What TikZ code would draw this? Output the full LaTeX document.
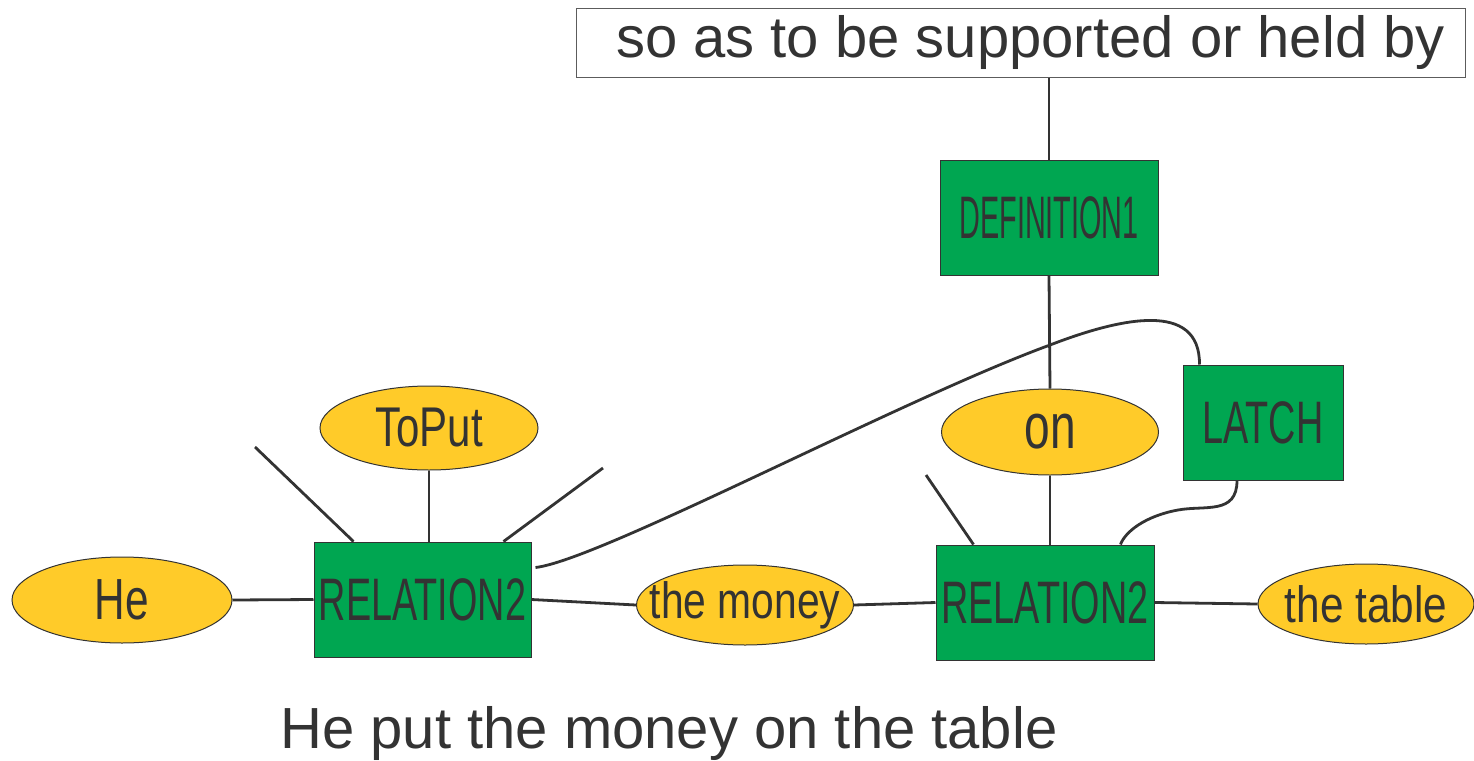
\documentclass[tikz,border=0pt]{standalone}
\usepackage{fontspec}
\setmainfont{Liberation Sans}
\usepackage{graphicx}
\usetikzlibrary{shapes.geometric}
\definecolor{boxgreen}{HTML}{00A651}
\definecolor{ovalyellow}{HTML}{FFCB29}
\definecolor{inkgray}{HTML}{333333}
\newcommand{\narrow}[2]{\makebox[0pt]{\scalebox{#1}[1]{#2}}}

\begin{document}
\begin{tikzpicture}[x=0.5pt,y=-0.5pt,
    concept/.style={draw=inkgray, line width=0.5pt, fill=boxgreen, inner sep=0pt,
        minimum height=57.5pt, text=inkgray, font=\fontsize{30}{30}\selectfont},
    word/.style={ellipse, draw=inkgray, line width=0.5pt, fill=ovalyellow, inner sep=0pt,
        minimum width=109pt, minimum height=42pt, text=inkgray, font=\fontsize{28}{28}\selectfont},
    link/.style={draw=inkgray, line width=1.4pt}]
    \useasboundingbox (0,0) rectangle (1474,761);

    % gloss and definition
    \node[draw=inkgray!80, line width=0.5pt, fill=white, inner sep=0pt, minimum width=444.5pt,
        minimum height=34.5pt, text=inkgray, font=\fontsize{29}{29}\selectfont]
        (gloss) at (1020.5,42.5) {\hspace*{10pt}so as to be supported or held by};
    \node[concept, minimum width=109pt] (def) at (1049,217.5) {\narrow{0.48}{DEFINITION1}};

    % relations
    \node[concept, minimum width=108.5pt] (rel1) at (422.5,599.5) {\narrow{0.63}{RELATION2}};
    \node[concept, minimum width=109pt] (rel2) at (1045,602.5) {\narrow{0.63}{RELATION2}};
    \node[concept, minimum width=80pt] (latch) at (1263,422.5) {\narrow{0.63}{LATCH}};

    % words
    \node[word, minimum width=110pt, minimum height=43pt, font=\fontsize{29}{29}\selectfont]
        (he) at (122,600) {\narrow{0.73}{He}};
    \node[word] (toput) at (429,428) {\narrow{0.75}{ToPut}};
    \node[word, minimum width=108.5pt, minimum height=40pt, font=\fontsize{25.5}{25.5}\selectfont]
        (money) at (745,605) {\narrow{0.8}{the money}};
    \node[word, minimum width=108.5pt, minimum height=43pt, font=\fontsize{32}{32}\selectfont]
        (on) at (1050,432) {\narrow{0.72}{on}};
    \node[word, minimum width=108pt, minimum height=40pt, font=\fontsize{25.5}{25.5}\selectfont]
        (table) at (1366,604) {\narrow{0.83}{the table}};

    \node[text=inkgray, font=\fontsize{29}{29}\selectfont, anchor=base west, inner sep=0pt]
        (sentence) at (280,748) {He put the money on the table};

    % free ends
    \coordinate (loose1) at (255,447);
    \coordinate (loose2) at (603,468);
    \coordinate (loose3) at (926,475);

    % links
    \draw[link] (gloss.south -| def.north) -- (def.north);
    \draw[link] (def.south) -- (on.north);
    \draw[link] (he.east) -- (rel1.west);
    \draw[link] (rel1.east) -- (money.west);
    \draw[link] (money.east) -- (rel2.west);
    \draw[link] (rel2.east) -- (table.west);
    \draw[link] (toput.south) -- (toput.south |- rel1.north);
    \draw[link] (loose1) -- ([xshift=20pt]rel1.north west);
    \draw[link] (loose2) -- ([xshift=-14pt]rel1.north east);
    \draw[link] (loose3) -- ([xshift=19pt]rel2.north west);
    \draw[link] (on.south) -- (on.south |- rel2.north);
    \draw[link] ([xshift=2pt,yshift=16pt]rel1.east) .. controls (600,560) and (900,400) .. (1050,345)
        .. controls (1120,318) and (1200,300) .. ([xshift=8.5pt]latch.north west);
    \draw[link] ([xshift=-13pt]latch.south) .. controls (1237,515) and (1205,505) .. (1178,510)
        .. controls (1145,516) and (1125,532) .. ([xshift=-17pt]rel2.north east);
\end{tikzpicture}
\end{document}
